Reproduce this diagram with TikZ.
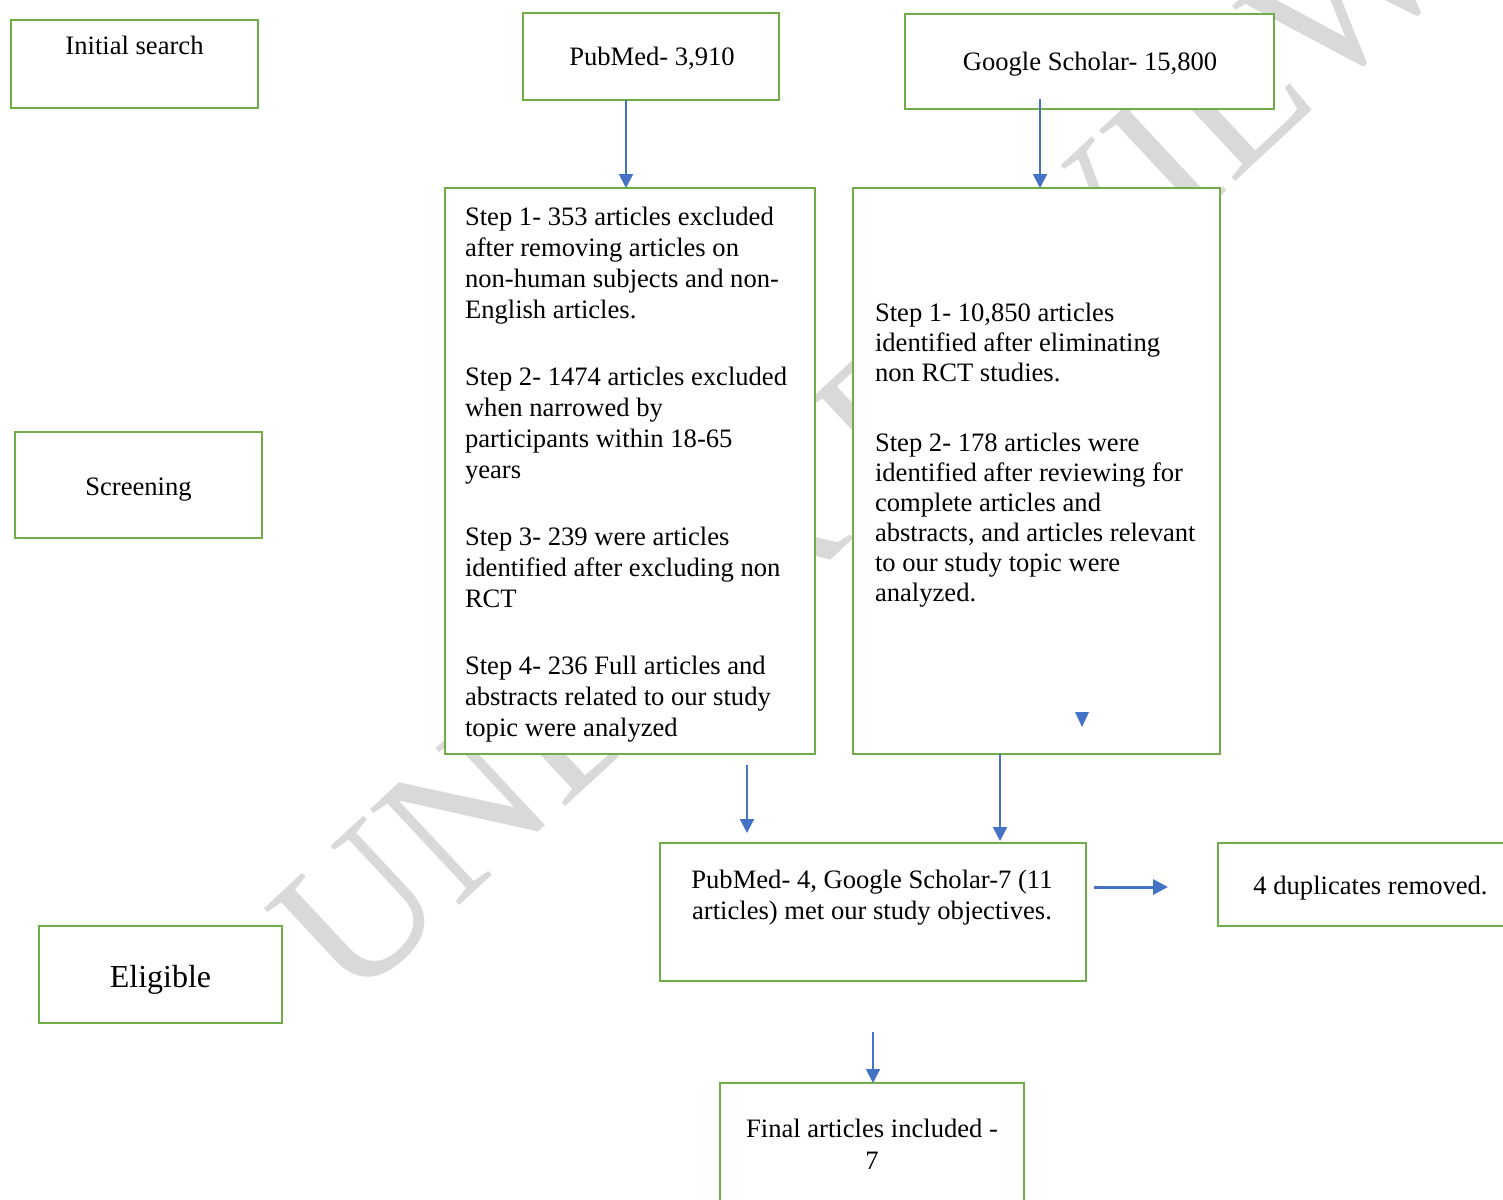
\documentclass[tikz,border=0pt]{standalone}
\usepackage{fontspec}
\setmainfont{Liberation Serif}
\usetikzlibrary{arrows.meta,calc}
\definecolor{boxgreen}{HTML}{70AD47}
\definecolor{arrblue}{HTML}{4472C4}
\definecolor{wmgray}{HTML}{D9D9D9}
\tikzset{
  box/.style={draw=boxgreen, line width=2.6pt, fill=white, inner sep=0pt, outer sep=0pt, anchor=north west},
  txt/.style={inner sep=0pt, outer sep=0pt, font=\fontsize{26.6}{31}\selectfont},
  arr/.style={draw=arrblue, line width=2pt, -{Triangle[width=14pt,length=14pt]}},
  arrthick/.style={draw=arrblue, line width=3pt, -{Triangle[width=15pt,length=15pt]}},
  wm/.style={text=wmgray, inner sep=0pt, font=\fontsize{200}{200}\selectfont}
}
\begin{document}
\begin{tikzpicture}[x=1pt,y=-1pt]
\useasboundingbox (0,0) rectangle (1503,1199);
\clip (0,0) rectangle (1503,1199);

% watermark
\node[wm, rotate=43, anchor=base west] (wmark) at (350,1008) {UNDER REVIEW};

% boxes
\node[box, minimum width=247pt, minimum height=88pt] (init) at (11,20) {};
\node[box, minimum width=256pt, minimum height=87pt] (pub) at (523,13) {};
\node[box, minimum width=369pt, minimum height=95pt] (gs) at (905,14) {};
\node[box, minimum width=370pt, minimum height=566pt] (s1) at (445,188) {};
\node[box, minimum width=367pt, minimum height=566pt] (s2) at (853,188) {};
\node[box, minimum width=247pt, minimum height=106pt] (scr) at (15,432) {};
\node[box, minimum width=243pt, minimum height=97pt] (eli) at (39,926) {};
\node[box, minimum width=426pt, minimum height=138pt] (mid) at (660,843) {};
\node[box, minimum width=305pt, minimum height=83pt] (dup) at (1218,843) {};
\node[box, minimum width=304pt, minimum height=140pt] (fin) at (720,1083) {};

% texts
\node[txt, anchor=base] (initT) at ($(init.north)+(0,35)$) {Initial search};
\node[txt, anchor=base] (pubT) at ($(pub.north)+(1,52)$) {PubMed- 3,910};
\node[txt, anchor=base] (gsT) at ($(gs.north)+(0.5,56.5)$) {Google Scholar- 15,800};
\node[txt, anchor=base] (scrT) at ($(scr.north)+(0,63)$) {Screening};
\node[txt, anchor=base, font=\fontsize{32}{38}\selectfont] (eliT) at ($(eli.north)+(0,61)$) {Eligible};
\node[txt, anchor=base] (dupT) at ($(dup.north)+(0,51)$) {4 duplicates removed.};
\node[txt, anchor=base] (midT) at ($(mid.north)+(-1,45)$)
  {\parbox[t]{420pt}{\centering PubMed- 4, Google Scholar-7 (11\\articles) met our study objectives.}};
\node[txt, anchor=base, font=\fontsize{26.6}{32}\selectfont] (finT) at ($(fin.north)+(0,54)$)
  {\parbox[t]{300pt}{\centering Final articles included -\\7}};
\node[txt, anchor=base west] (s1T) at ($(s1.north west)+(20,37)$)
  {\parbox[t]{345pt}{Step 1- 353 articles excluded\\
   after removing articles on\\
   non-human subjects and non-\\
   English articles.\\[36pt]
   Step 2- 1474 articles excluded\\
   when narrowed by\\
   participants within 18-65\\
   years\\[36pt]
   Step 3- 239 were articles\\
   identified after excluding non\\
   RCT\\[36pt]
   Step 4- 236 Full articles and\\
   abstracts related to our study\\
   topic were analyzed}};
\node[txt, anchor=base west, font=\fontsize{26.6}{30}\selectfont] (s2T) at ($(s2.north west)+(22,133)$)
  {\parbox[t]{340pt}{Step 1- 10,850 articles\\
   identified after eliminating\\
   non RCT studies.\\[40pt]
   Step 2- 178 articles were\\
   identified after reviewing for\\
   complete articles and\\
   abstracts, and articles relevant\\
   to our study topic were\\
   analyzed.}};

% stray arrowhead
\fill[arrblue] (1075,712) -- (1089,712) -- (1082,727) -- cycle;

% connectors
\coordinate (p1) at ($(pub.south)+(-25,0)$);
\draw[arr] (p1) -- (p1 |- s1.north);
\coordinate (g1) at ($(gs.south)+(-49.5,-10)$);
\draw[arr] (g1) -- (g1 |- s2.north);
\coordinate (l1) at ($(s1.south)+(117,11)$);
\coordinate (l2) at ($(l1 |- mid.north)+(0,-10)$);
\draw[arr] (l1) -- (l2);
\coordinate (r1) at ($(s2.south)+(-36.5,0)$);
\coordinate (r2) at ($(r1 |- mid.north)+(0,-2)$);
\draw[arr] (r1) -- (r2);
\coordinate (m1) at ($(mid.east |- dup.west)+(8,2.5)$);
\coordinate (m2) at ($(dup.west)+(-50,2.5)$);
\draw[arrthick] (m1) -- (m2);
\coordinate (f1) at ($(mid.south)+(0,51)$);
\draw[arr] (f1) -- (f1 |- fin.north);
\end{tikzpicture}
\end{document}
